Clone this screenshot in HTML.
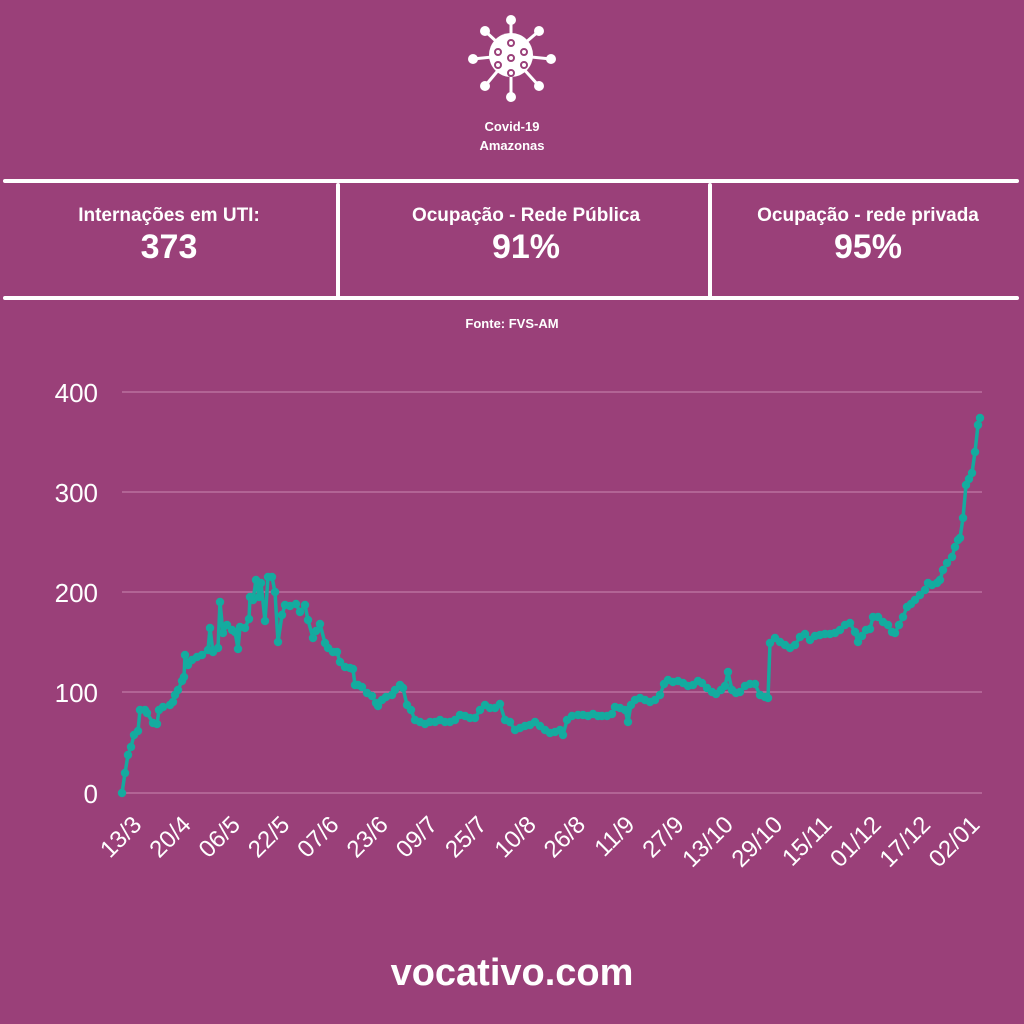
<!DOCTYPE html>
<html><head><meta charset="utf-8"><style>
html,body{margin:0;padding:0;background:#9a4079;}
body{width:1024px;height:1024px;overflow:hidden;position:relative;font-family:"Liberation Sans",sans-serif;color:#fff;}
.t{position:absolute;text-align:center;font-weight:bold;}
</style></head><body>
<svg width="1024" height="1024" style="position:absolute;left:0;top:0">
<g fill="#fff" stroke="#fff">
<circle cx="511" cy="55" r="22" stroke="none"/>
<g stroke-width="3">
<line x1="511" y1="55" x2="511" y2="20"/><line x1="511" y1="55" x2="511" y2="97"/>
<line x1="511" y1="55" x2="473" y2="59"/><line x1="511" y1="55" x2="551" y2="59"/>
<line x1="511" y1="55" x2="485" y2="31"/><line x1="511" y1="55" x2="539" y2="31"/>
<line x1="511" y1="55" x2="485" y2="86"/><line x1="511" y1="55" x2="539" y2="86"/>
</g>
<g stroke="none"><circle cx="511" cy="20" r="5"/><circle cx="511" cy="97" r="5"/><circle cx="473" cy="59" r="5"/><circle cx="551" cy="59" r="5"/><circle cx="485" cy="31" r="5"/><circle cx="539" cy="31" r="5"/><circle cx="485" cy="86" r="5"/><circle cx="539" cy="86" r="5"/></g>
</g>
<g fill="none" stroke="#9a4079" stroke-width="2">
<circle cx="511" cy="43" r="3"/><circle cx="498" cy="52" r="3"/><circle cx="524" cy="52" r="3"/><circle cx="511" cy="58" r="3"/><circle cx="498" cy="65" r="3"/><circle cx="524" cy="65" r="3"/><circle cx="511" cy="73" r="3"/>
</g>
<g stroke="#fff" stroke-width="4" stroke-linecap="round">
<line x1="5" y1="181" x2="1017" y2="181"/><line x1="5" y1="298" x2="1017" y2="298"/>
<line x1="338" y1="185" x2="338" y2="296"/><line x1="710" y1="185" x2="710" y2="296"/>
</g>
<g stroke="#c07aa6" stroke-width="1.2">
<line x1="122" y1="392" x2="982" y2="392"/><line x1="122" y1="492" x2="982" y2="492"/><line x1="122" y1="592" x2="982" y2="592"/><line x1="122" y1="692" x2="982" y2="692"/><line x1="122" y1="793" x2="982" y2="793"/>
</g>
<g fill="#fff" font-size="26" text-anchor="end" font-family="Liberation Sans,sans-serif">
<text x="98" y="402">400</text><text x="98" y="502">300</text><text x="98" y="602">200</text><text x="98" y="702">100</text><text x="98" y="803">0</text>
</g>
<g id="xl" fill="#fff" font-size="24" text-anchor="end" font-family="Liberation Sans,sans-serif"></g>
<polyline id="ln" fill="none" stroke="#14ab9f" stroke-width="3.5" stroke-linejoin="round"/>
<g id="dots" fill="#14ab9f"></g>
</svg>
<div class="t" style="left:412px;top:117px;width:200px;font-size:13px;line-height:19px">Covid-19<br>Amazonas</div>
<div class="t" style="left:0;top:205px;width:338px;font-size:19px">Internações em UTI:</div>
<div class="t" style="left:0;top:228px;width:338px;font-size:34px">373</div>
<div class="t" style="left:340px;top:205px;width:372px;font-size:19px">Ocupação - Rede Pública</div>
<div class="t" style="left:340px;top:228px;width:372px;font-size:34px">91%</div>
<div class="t" style="left:712px;top:205px;width:312px;font-size:19px">Ocupação - rede privada</div>
<div class="t" style="left:712px;top:228px;width:312px;font-size:34px">95%</div>
<div class="t" style="left:412px;top:316px;width:200px;font-size:13px">Fonte: FVS-AM</div>
<div class="t" style="left:0;top:952px;width:1024px;font-size:38px">vocativo.com</div>
<script>
var p=[[122,793],[125,773],[128,755],[131,747],[134,735],[138,731],[140,710],[145,710],[147,713],[153,723],[157,724],[159,710],[163,707],[170,705],[173,702],[175,695],[178,690],[182,681],[184,677],[185,655],[188,665],[192,660],[197,657],[202,655],[208,650],[210,628],[213,652],[218,648],[220,602],[223,633],[227,625],[232,630],[235,632],[238,649],[240,627],[245,628],[249,619],[250,597],[253,600],[256,580],[259,597],[261,583],[265,621],[268,577],[272,577],[275,592],[278,642],[282,615],[285,605],[290,606],[296,604],[300,612],[305,605],[308,620],[313,638],[316,631],[320,624],[325,643],[328,648],[333,652],[337,652],[340,662],[345,667],[350,668],[353,669],[355,685],[358,685],[362,687],[367,693],[372,696],[376,703],[378,706],[382,700],[386,697],[392,695],[395,690],[400,685],[403,688],[407,705],[411,710],[415,720],[420,722],[425,724],[430,722],[435,722],[440,720],[445,722],[450,722],[455,720],[460,715],[465,716],[470,718],[475,718],[480,710],[485,705],[490,708],[495,708],[500,704],[505,720],[510,722],[515,730],[520,728],[525,726],[530,725],[535,722],[540,726],[545,730],[550,733],[555,732],[560,730],[563,735],[567,720],[572,716],[578,715],[583,715],[588,716],[593,714],[598,716],[602,716],[607,716],[612,714],[615,707],[620,708],[625,710],[628,722],[631,705],[635,700],[640,698],[645,700],[650,702],[655,700],[660,695],[664,684],[668,680],[673,682],[678,681],[683,683],[688,686],[693,685],[698,681],[702,683],[707,688],[712,692],[716,694],[721,690],[725,686],[728,672],[732,690],[736,693],[740,692],[745,686],[750,684],[755,684],[760,695],[765,697],[768,698],[770,643],[775,638],[780,642],[785,645],[790,648],[795,645],[800,637],[805,634],[810,640],[815,636],[820,635],[825,634],[830,634],[835,633],[840,630],[845,625],[850,623],[855,632],[858,642],[862,636],[866,630],[870,629],[873,617],[878,617],[883,622],[888,625],[892,632],[895,633],[899,625],[903,617],[907,607],[911,604],[915,600],[920,595],[925,590],[928,583],[932,585],[937,583],[940,580],[943,570],[947,563],[952,557],[955,547],[958,540],[960,538],[963,518],[966,485],[969,479],[972,473],[975,452],[978,425],[980,418]];
var ns="http://www.w3.org/2000/svg";
document.getElementById('ln').setAttribute('points',p.map(function(a){return a.join(',')}).join(' '));
var d=document.getElementById('dots');
p.forEach(function(a){var c=document.createElementNS(ns,'circle');c.setAttribute('cx',a[0]);c.setAttribute('cy',a[1]);c.setAttribute('r',4.2);d.appendChild(c);});
var L=["13/3","20/4","06/5","22/5","07/6","23/6","09/7","25/7","10/8","26/8","11/9","27/9","13/10","29/10","15/11","01/12","17/12","02/01"];
var g=document.getElementById('xl');
L.forEach(function(s,i){var x=143+i*49.3,y=826;var t=document.createElementNS(ns,'text');t.setAttribute('x',x);t.setAttribute('y',y);t.setAttribute('transform','rotate(-45 '+x+' '+y+')');t.textContent=s;g.appendChild(t);});
</script>
</body></html>
